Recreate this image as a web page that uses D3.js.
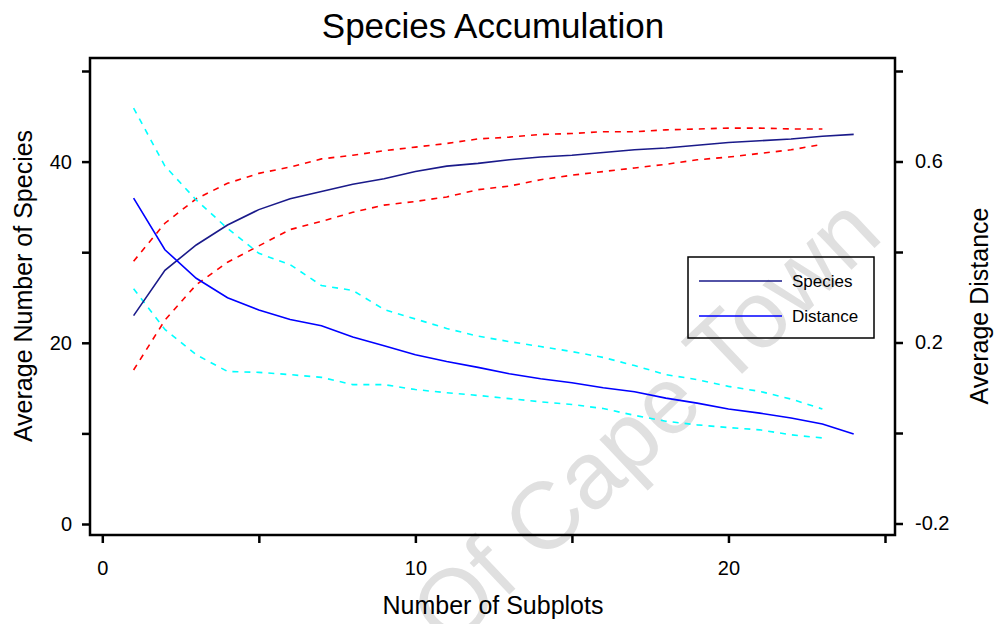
<!DOCTYPE html>
<html>
<head>
<meta charset="utf-8">
<script src="https://cdn.jsdelivr.net/npm/d3@7"></script>
<style>
  body { margin: 0; background: #fff; }
  text { font-family: "Liberation Sans", Arial, sans-serif; fill: #000; }
</style>
</head>
<body>
<div id="chart"></div>
<script>
// values
var subplots = [1, 2, 3, 4, 5, 6, 7, 8, 9, 10, 11, 12, 13, 14, 15, 16, 17, 18, 19, 20, 21, 22, 23, 24];
var speciesMean  = [23.0, 28.0, 30.8, 33.0, 34.7, 35.9, 36.7, 37.5, 38.1, 38.9, 39.5, 39.8, 40.2, 40.5, 40.7, 41.0, 41.3, 41.5, 41.8, 42.1, 42.3, 42.5, 42.8, 43.0];
var speciesUpper = [29.0, 33.2, 35.9, 37.6, 38.7, 39.4, 40.3, 40.7, 41.2, 41.6, 42.0, 42.5, 42.7, 43.0, 43.1, 43.3, 43.3, 43.5, 43.6, 43.7, 43.7, 43.6, 43.6];
var speciesLower = [17.0, 22.5, 26.4, 28.9, 30.7, 32.5, 33.4, 34.4, 35.2, 35.6, 36.1, 36.9, 37.3, 38.0, 38.5, 38.9, 39.3, 39.7, 40.2, 40.5, 40.9, 41.3, 41.9];
var distanceMean  = [0.519, 0.405, 0.342, 0.299, 0.272, 0.251, 0.237, 0.212, 0.193, 0.173, 0.158, 0.145, 0.131, 0.120, 0.111, 0.100, 0.091, 0.077, 0.066, 0.053, 0.044, 0.033, 0.020, -0.002];
var distanceUpper = [0.718, 0.590, 0.515, 0.452, 0.397, 0.372, 0.326, 0.315, 0.273, 0.252, 0.231, 0.214, 0.202, 0.191, 0.180, 0.167, 0.149, 0.129, 0.118, 0.103, 0.092, 0.075, 0.053];
var distanceLower = [0.319, 0.229, 0.173, 0.136, 0.134, 0.129, 0.123, 0.107, 0.107, 0.096, 0.089, 0.083, 0.076, 0.069, 0.063, 0.054, 0.039, 0.026, 0.018, 0.012, 0.007, -0.004, -0.011];

var xTicks = [0, 5, 10, 15, 20, 25];
var xLabels = [0, 10, 20];
var yTicks = [0, 10, 20, 30, 40, 50];
var yLabels = [0, 20, 40];
var y2Ticks = [-0.2, 0, 0.2, 0.4, 0.6, 0.8];
var y2Labels = ["-0.2", "0.2", "0.6"];

var w = 997, h = 624;
var frame = {left: 90, right: 895, top: 58, bottom: 535};

var svg = d3.select("#chart").append("svg")
  .attr("width", w)
  .attr("height", h);

var x = d3.scaleLinear().domain([0, 25]).range([102.3, 885]);
var y = d3.scaleLinear().domain([0, 50]).range([524, 71]);
var y2 = d3.scaleLinear().domain([-0.2, 0.8]).range([523.5, 71]);

// watermark (cut off by the bottom edge, as in the original)
svg.append("text")
  .attr("transform", "translate(885,238) rotate(-43.5)")
  .attr("text-anchor", "end")
  .attr("font-size", 95)
  .style("fill", "#e0e0e0")
  .text("Of Cape Town");

// lines
function pairs(xs, ys) {
  return ys.map(function(v, i) { return [xs[i], v]; });
}
var lineL = d3.line().x(function(d) { return x(d[0]); }).y(function(d) { return y(d[1]); });
var lineR = d3.line().x(function(d) { return x(d[0]); }).y(function(d) { return y2(d[1]); });

var series = [
  {data: pairs(subplots, speciesUpper), gen: lineL, color: "#ff0000", dash: "6,6"},
  {data: pairs(subplots, speciesLower), gen: lineL, color: "#ff0000", dash: "6,6"},
  {data: pairs(subplots, distanceUpper), gen: lineR, color: "#00ffff", dash: "6,6"},
  {data: pairs(subplots, distanceLower), gen: lineR, color: "#00ffff", dash: "6,6"},
  {data: pairs(subplots, speciesMean), gen: lineL, color: "#1a1a8a", dash: null},
  {data: pairs(subplots, distanceMean), gen: lineR, color: "#0000ff", dash: null}
];

svg.selectAll("path.series")
  .data(series)
  .enter()
  .append("path")
  .attr("class", "series")
  .attr("d", function(d) { return d.gen(d.data); })
  .attr("fill", "none")
  .attr("stroke", function(d) { return d.color; })
  .attr("stroke-width", 1.6)
  .attr("stroke-dasharray", function(d) { return d.dash; });

// frame
svg.append("rect")
  .attr("x", frame.left)
  .attr("y", frame.top)
  .attr("width", frame.right - frame.left)
  .attr("height", frame.bottom - frame.top)
  .attr("fill", "none")
  .attr("stroke", "#000")
  .attr("stroke-width", 2.5);

// axes
var axB = d3.axisBottom(x).tickValues(xTicks).tickSize(8).tickPadding(18)
  .tickFormat(function(d) { return xLabels.indexOf(d) >= 0 ? d : ""; });
var axL = d3.axisLeft(y).tickValues(yTicks).tickSize(8).tickPadding(10)
  .tickFormat(function(d) { return yLabels.indexOf(d) >= 0 ? d : ""; });
var axR = d3.axisRight(y2).tickValues(y2Ticks).tickSize(8).tickPadding(12)
  .tickFormat(function(d) {
    var s = d.toFixed(1);
    return y2Labels.indexOf(s) >= 0 ? s : "";
  });

function styleAxis(g) {
  g.select(".domain").remove();
  g.selectAll(".tick line").attr("stroke", "#000").attr("stroke-width", 2.5);
  g.selectAll(".tick text")
    .attr("font-size", 20)
    .attr("font-family", null)
    .style("fill", "#000");
}

svg.append("g").attr("transform", "translate(0," + frame.bottom + ")").call(axB).call(styleAxis);
svg.append("g").attr("transform", "translate(" + frame.left + ",0)").call(axL).call(styleAxis);
svg.append("g").attr("transform", "translate(" + frame.right + ",0)").call(axR).call(styleAxis);

// titles
svg.append("text")
  .attr("x", 493).attr("y", 38)
  .attr("text-anchor", "middle")
  .attr("font-size", 35)
  .text("Species Accumulation");

svg.append("text")
  .attr("x", 493).attr("y", 614)
  .attr("text-anchor", "middle")
  .attr("font-size", 25)
  .text("Number of Subplots");

svg.append("text")
  .attr("transform", "translate(32,286) rotate(-90)")
  .attr("text-anchor", "middle")
  .attr("font-size", 25)
  .text("Average Number of Species");

svg.append("text")
  .attr("transform", "translate(988,306) rotate(-90)")
  .attr("text-anchor", "middle")
  .attr("font-size", 25)
  .text("Average Distance");

// legend
var legend = svg.append("g");
legend.append("rect")
  .attr("x", 688).attr("y", 257)
  .attr("width", 186).attr("height", 81)
  .attr("fill", "none")
  .attr("stroke", "#000")
  .attr("stroke-width", 1.5);

var legendItems = [
  {label: "Species", color: "#1a1a8a"},
  {label: "Distance", color: "#0000ff"}
];
legendItems.forEach(function(d, i) {
  var ly = 281 + i * 35;
  legend.append("line")
    .attr("x1", 699).attr("x2", 782)
    .attr("y1", ly).attr("y2", ly)
    .attr("stroke", d.color)
    .attr("stroke-width", 1.6);
  legend.append("text")
    .attr("x", 792).attr("y", ly + 6)
    .attr("font-size", 17)
    .text(d.label);
});
</script>
</body>
</html>
